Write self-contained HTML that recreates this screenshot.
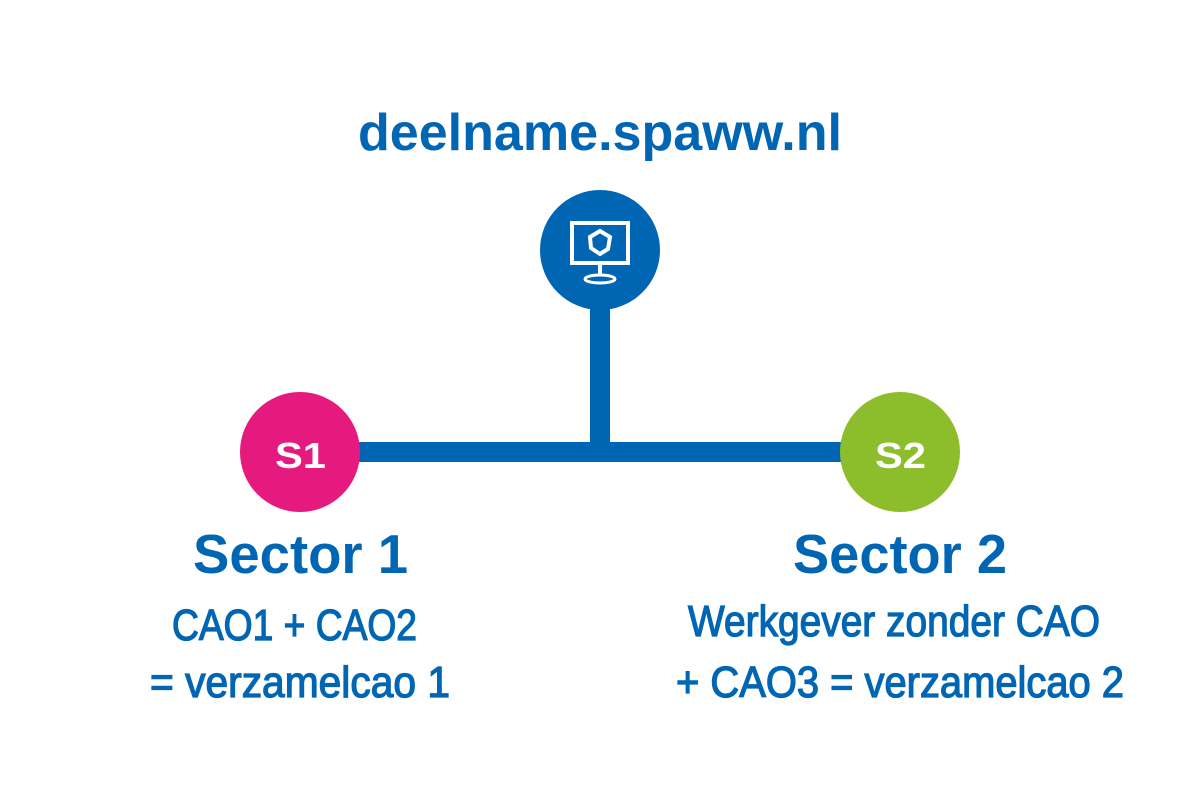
<!DOCTYPE html>
<html><head><meta charset="utf-8"><style>html,body{margin:0;padding:0;background:#fff}svg{display:block}</style></head>
<body>
<svg width="1200" height="800" viewBox="0 0 1200 800" xmlns="http://www.w3.org/2000/svg">
<g fill="#0066b3" font-family="Liberation Sans, sans-serif">
<text x="358" y="150" font-size="52" font-weight="bold" textLength="484" lengthAdjust="spacingAndGlyphs">deelname.spaww.nl</text>
<rect x="590" y="290" width="20" height="170"/>
<rect x="300" y="442" width="600" height="20"/>
<circle cx="600" cy="250" r="60"/>
<circle cx="300" cy="452" r="60" fill="#e5197e"/>
<circle cx="900" cy="452" r="60" fill="#8cbd2a"/>
<text x="275" y="468" font-size="36" font-weight="bold" fill="#fff" textLength="51" lengthAdjust="spacingAndGlyphs">S1</text>
<text x="875" y="468" font-size="36" font-weight="bold" fill="#fff" textLength="51" lengthAdjust="spacingAndGlyphs">S2</text>
<text x="193" y="573" font-size="55" font-weight="bold" textLength="215" lengthAdjust="spacingAndGlyphs">Sector 1</text>
<text x="793" y="573" font-size="55" font-weight="bold" textLength="214" lengthAdjust="spacingAndGlyphs">Sector 2</text>
<g stroke="#0066b3" stroke-width="1.3">
<text x="172" y="640" font-size="44" textLength="245" lengthAdjust="spacingAndGlyphs">CAO1 + CAO2</text>
<text x="150" y="697" font-size="44" textLength="300" lengthAdjust="spacingAndGlyphs">= verzamelcao 1</text>
<text x="688" y="636" font-size="44" textLength="412" lengthAdjust="spacingAndGlyphs">Werkgever zonder CAO</text>
<text x="676" y="697" font-size="44" textLength="448" lengthAdjust="spacingAndGlyphs">+ CAO3 = verzamelcao 2</text>
</g>
</g>
<g fill="none" stroke="#fff">
<rect x="572" y="223" width="56" height="40" stroke-width="4"/>
<line x1="600" y1="264" x2="600" y2="276" stroke-width="4"/>
<ellipse cx="600" cy="279" rx="15" ry="4" stroke-width="3"/>
<path d="M600 231 L610 237 L608 249 L600 254 L591 248 L590 237 Z" stroke-width="4"/>
</g>
</svg>
</body></html>
